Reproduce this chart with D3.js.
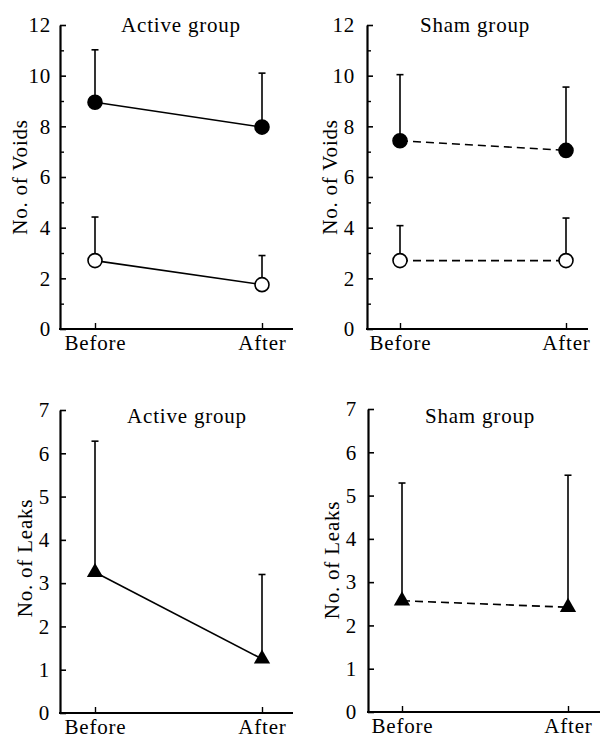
<!DOCTYPE html>
<html>
<head>
<meta charset="utf-8">
<script src="https://cdn.jsdelivr.net/npm/d3@7"></script>
<style>
  body { margin: 0; background: #fff; }
  svg text { font-family: "Liberation Serif", "Times New Roman", serif; fill: #000; letter-spacing: 0.8px; }
</style>
</head>
<body>
<div id="chart"></div>
<script>
// Categories on the x axis
const categories = ["Before", "After"];

// Voids, active group (filled circles = upper series, open circles = lower series)
const activeVoidsFilled = [8.95, 7.97];
const activeVoidsFilledTop = [11.02, 10.1];
const activeVoidsOpen = [2.7, 1.75];
const activeVoidsOpenTop = [4.42, 2.9];

// Voids, sham group
const shamVoidsFilled = [7.43, 7.05];
const shamVoidsFilledTop = [10.04, 9.55];
const shamVoidsOpen = [2.7, 2.7];
const shamVoidsOpenTop = [4.08, 4.38];

// Leaks (triangles)
const activeLeaks = [3.25, 1.25];
const activeLeaksTop = [6.28, 3.2];
const shamLeaks = [2.57, 2.42];
const shamLeaksTop = [5.29, 5.47];

// Axis ticks
const voidsMajorTicks = [0, 2, 4, 6, 8, 10, 12];
const voidsMinorTicks = [1, 3, 5, 7, 9, 11];
const leaksTicks = [0, 1, 2, 3, 4, 5, 6, 7];

const width = 600, height = 739;

const svg = d3.select("#chart")
    .append("svg")
    .attr("width", width)
    .attr("height", height);

const panels = [
    {
        title: "Active group", ylabel: "No. of Voids", ymax: 12, dashed: false,
        left: 60, right: 293, top: 25, bottom: 329, xs: [95, 262], pad: 9,
        titleX: 181, titleY: 32, labelX: 20, labelY: 177,
        major: voidsMajorTicks, minor: voidsMinorTicks,
        series: [
            { values: activeVoidsFilled, tops: activeVoidsFilledTop, shape: "filled" },
            { values: activeVoidsOpen, tops: activeVoidsOpenTop, shape: "open" }
        ]
    },
    {
        title: "Sham group", ylabel: "No. of Voids", ymax: 12, dashed: true,
        left: 367, right: 588, top: 25, bottom: 329, xs: [400, 566], pad: 12,
        titleX: 475, titleY: 32, labelX: 330, labelY: 177,
        major: voidsMajorTicks, minor: voidsMinorTicks,
        series: [
            { values: shamVoidsFilled, tops: shamVoidsFilledTop, shape: "filled" },
            { values: shamVoidsOpen, tops: shamVoidsOpenTop, shape: "open" }
        ]
    },
    {
        title: "Active group", ylabel: "No. of Leaks", ymax: 7, dashed: false,
        left: 60, right: 293, top: 410, bottom: 713, xs: [95, 262], pad: 10,
        titleX: 187, titleY: 423, labelX: 25, labelY: 558,
        major: leaksTicks, minor: [],
        series: [
            { values: activeLeaks, tops: activeLeaksTop, shape: "triangle" }
        ]
    },
    {
        title: "Sham group", ylabel: "No. of Leaks", ymax: 7, dashed: true,
        left: 368, right: 600, top: 409, bottom: 712, xs: [402, 568], pad: 11,
        titleX: 480, titleY: 423, labelX: 332, labelY: 560,
        major: leaksTicks, minor: [],
        series: [
            { values: shamLeaks, tops: shamLeaksTop, shape: "triangle" }
        ]
    }
];

panels.forEach(p => {
    const x = d3.scaleOrdinal().domain(categories).range(p.xs);
    const y = d3.scaleLinear().domain([0, p.ymax]).range([p.bottom, p.top]);
    const g = svg.append("g");

    // y axis, ticks pointing inward
    const yAxis = g.append("g")
        .attr("transform", `translate(${p.left},0)`)
        .call(d3.axisLeft(y).tickValues(p.major).tickFormat(d3.format("d"))
            .tickSizeInner(-6).tickSizeOuter(0).tickPadding(p.pad));
    yAxis.select(".domain").attr("stroke-width", 2.2);
    yAxis.selectAll(".tick line").attr("stroke-width", 1.6);
    yAxis.selectAll(".tick text")
        .style("font-size", "21px")
        .attr("font-family", null);

    if (p.minor.length) {
        const minorAxis = g.append("g")
            .attr("transform", `translate(${p.left},0)`)
            .call(d3.axisLeft(y).tickValues(p.minor).tickSizeInner(-4).tickSizeOuter(0).tickFormat(""));
        minorAxis.select(".domain").remove();
        minorAxis.selectAll(".tick line").attr("stroke-width", 1.4);
    }

    // x axis line and inward ticks
    g.append("line")
        .attr("x1", p.left - 1).attr("x2", p.right)
        .attr("y1", p.bottom).attr("y2", p.bottom)
        .attr("stroke", "#000").attr("stroke-width", 2.2);

    const xAxis = g.append("g")
        .attr("transform", `translate(0,${p.bottom})`)
        .call(d3.axisBottom(x).tickSizeInner(-6).tickSizeOuter(0).tickPadding(6));
    xAxis.select(".domain").remove();
    xAxis.selectAll(".tick line").attr("stroke-width", 1.4);
    xAxis.selectAll(".tick text")
        .style("font-size", "21px")
        .attr("font-family", null);

    // title
    g.append("text")
        .attr("x", p.titleX).attr("y", p.titleY)
        .attr("text-anchor", "middle")
        .style("font-size", "21px")
        .text(p.title);

    // y label
    g.append("text")
        .attr("transform", `translate(${p.labelX},${p.labelY}) rotate(-90)`)
        .attr("text-anchor", "middle")
        .attr("dy", "0.35em")
        .style("font-size", "21px")
        .text(p.ylabel);

    const line = d3.line()
        .x((d, i) => x(categories[i]))
        .y(d => y(d));

    p.series.forEach(s => {
        // error bars (upper only)
        s.values.forEach((v, i) => {
            const cx = x(categories[i]);
            g.append("line")
                .attr("x1", cx).attr("x2", cx)
                .attr("y1", y(v)).attr("y2", y(s.tops[i]))
                .attr("stroke", "#000").attr("stroke-width", 1.6);
            g.append("line")
                .attr("x1", cx - 3.5).attr("x2", cx + 3.5)
                .attr("y1", y(s.tops[i])).attr("y2", y(s.tops[i]))
                .attr("stroke", "#000").attr("stroke-width", 1.6);
        });

        // connecting line
        g.append("path")
            .datum(s.values)
            .attr("fill", "none")
            .attr("stroke", "#000")
            .attr("stroke-width", 1.6)
            .attr("stroke-dasharray", p.dashed ? "8,5" : null)
            .attr("d", line);

        // markers
        s.values.forEach((v, i) => {
            const cx = x(categories[i]);
            if (s.shape === "triangle") {
                g.append("path")
                    .attr("transform", `translate(${cx},${y(v)})`)
                    .attr("d", d3.symbol(d3.symbolTriangle, 115)())
                    .attr("fill", "#000");
            } else {
                g.append("circle")
                    .attr("cx", cx).attr("cy", y(v)).attr("r", 7)
                    .attr("fill", s.shape === "filled" ? "#000" : "#fff")
                    .attr("stroke", "#000").attr("stroke-width", 1.6);
            }
        });
    });
});
</script>
</body>
</html>
